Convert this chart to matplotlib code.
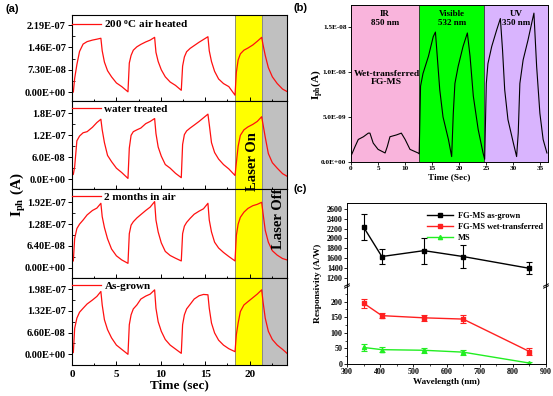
import numpy as np
import matplotlib
matplotlib.use("Agg")
import matplotlib.pyplot as plt
from matplotlib.lines import Line2D

plt.rcParams['font.family'] = ['Liberation Serif', 'DejaVu Serif']
plt.rcParams['font.weight'] = 'bold'
plt.rcParams['mathtext.fontset'] = 'custom'
plt.rcParams['mathtext.rm'] = 'Liberation Serif:bold'
plt.rcParams['mathtext.bf'] = 'Liberation Serif:bold'
plt.rcParams['mathtext.it'] = 'Liberation Serif:bold:italic'

# ---- panel (a): photocurrent vs time, four samples (values in 1e-8 A) ----
t_a = [0.0, 0.15, 0.3, 0.55, 0.85, 1.25, 1.7, 2.3, 2.8, 3.25, 3.4, 3.65, 4.0, 4.45, 5.0, 5.6, 6.3,
       6.45, 6.65, 6.9, 7.3, 7.75, 8.3, 8.8, 9.3, 9.45, 9.7, 10.05, 10.5, 11.05, 11.65, 12.3,
       12.45, 12.65, 12.9, 13.3, 13.75, 14.3, 14.8, 15.3, 15.45, 15.7, 16.05, 16.5, 17.05, 17.65, 18.35,
       18.5, 18.7, 18.95, 19.35, 19.8, 20.35, 20.85, 21.35, 21.5, 21.75, 22.1, 22.55, 23.1, 23.7, 24.2]
air_heated = [0.6, 0.0, 4.5, 9.0, 13.3, 15.7, 16.5, 17.0, 17.3, 17.6, 13.5, 9.8, 7.0, 5.0, 3.0, 1.8, 0.1,
              9.5, 12.0, 13.7, 14.8, 15.6, 16.4, 17.0, 17.9, 13.0, 10.0, 7.3, 5.0, 3.3, 2.2, 0.6,
              8.5, 11.5, 13.2, 14.3, 15.2, 16.3, 17.2, 18.1, 13.5, 10.0, 6.8, 4.3, 2.8, 1.8, -1.0,
              6.5, 10.5, 12.5, 13.7, 14.4, 15.4, 16.6, 17.9, 15.5, 12.0, 8.0, 5.0, 2.8, 1.0, 0.2]
water_treated = [1.1, 1.3, 3.4, 10.5, 11.8, 12.7, 13.0, 14.2, 15.5, 16.4, 13.5, 10.0, 6.5, 4.8, 3.0, 1.8, 0.2,
                 8.5, 12.0, 13.0, 13.5, 14.0, 15.2, 15.8, 16.6, 12.5, 8.8, 6.3, 4.0, 3.0, 1.6, 0.4,
                 9.5, 12.2, 13.2, 14.0, 14.8, 15.8, 16.8, 17.8, 15.0, 10.0, 7.3, 5.5, 4.0, 2.8, 1.0,
                 4.5, 9.0, 12.0, 13.5, 14.3, 15.0, 15.8, 17.1, 15.0, 11.5, 7.0, 4.5, 3.0, 1.5, 0.8]
two_months = [1.8, 2.0, 8.6, 11.5, 12.8, 14.0, 15.5, 16.8, 17.5, 18.9, 15.0, 11.8, 8.5, 5.5, 3.5, 2.3, 1.3,
              10.0, 12.5, 13.5, 14.6, 15.6, 16.8, 17.8, 19.4, 14.0, 10.5, 7.3, 4.8, 3.6, 2.8, 2.0,
              10.0, 12.2, 13.3, 14.5, 15.7, 16.6, 17.3, 18.9, 14.0, 10.5, 7.5, 5.8, 4.5, 3.3, 2.0,
              9.5, 12.8, 14.8, 16.3, 17.4, 18.2, 18.6, 19.2, 16.0, 11.0, 7.5, 5.0, 3.7, 2.7, 2.3]
as_grown = [0.8, 0.5, 7.9, 11.0, 12.8, 14.0, 15.3, 16.5, 17.6, 19.1, 15.0, 10.5, 7.5, 5.0, 2.8, 1.5, 0.0,
            9.0, 12.0, 13.8, 15.0, 16.8, 17.7, 18.3, 19.6, 14.0, 9.9, 7.0, 4.5, 2.8, 1.6, 0.3,
            9.0, 12.0, 13.8, 15.2, 16.8, 17.8, 18.2, 18.1, 14.0, 9.5, 6.5, 4.3, 2.8, 1.7, 0.8,
            6.0, 9.5, 13.0, 15.0, 16.0, 17.2, 18.3, 19.6, 16.0, 11.0, 7.0, 4.5, 2.8, 1.5, 0.3]
labels_a = [r'200 $^{\mathbf{o}}$C air heated', 'water treated', '2 months in air', 'As-grown']
yticks_a = [[0, 7.3e-8, 1.46e-7, 2.19e-7], [0, 6e-8, 1.2e-7, 1.8e-7],
            [0, 6.4e-8, 1.28e-7, 1.92e-7], [0, 6.6e-8, 1.32e-7, 1.98e-7]]
yticklabels_a = [['0.00E+00', '7.30E-08', '1.46E-07', '2.19E-07'],
                 ['0.0E+00', '6.0E-08', '1.2E-07', '1.8E-07'],
                 ['0.00E+00', '6.40E-08', '1.28E-07', '1.92E-07'],
                 ['0.00E+00', '6.60E-08', '1.32E-07', '1.98E-07']]
ylims_a = [(-2.9e-8, 2.52e-7), (-2.7e-8, 2.14e-7), (-3.0e-8, 2.31e-7), (-3.25e-8, 2.32e-7)]
laser_on, laser_off, t_end = 18.35, 21.4, 24.2

# ---- panel (b): wet-transferred FG-MS under IR / visible / UV (values in 1e-9 A) ----
t_b = [0.1, 0.74, 1.35, 2.3, 3.2, 3.5, 4.1, 5.0, 6.3, 6.7, 7.2, 8.4, 9.3, 10.0, 10.9, 12.4, 12.6,
       12.85, 13.3, 14.3, 15.2, 15.6, 15.8, 16.4, 17.0, 18.0, 18.6, 18.9, 19.2, 19.8, 20.7, 21.5,
       22.0, 22.6, 23.5, 24.4, 24.7, 25.0, 25.3, 26.0, 26.9, 27.6, 28.0, 28.4, 29.0, 30.0, 30.6,
       30.9, 31.2, 31.8, 32.7, 33.5, 33.8, 34.3, 34.9, 35.5, 36.2]
i_b = [0.8, 1.7, 2.5, 2.8, 3.2, 3.2, 2.1, 1.4, 1.0, 1.7, 2.8, 3.0, 3.2, 2.5, 1.4, 1.0, 0.9,
       8.4, 9.8, 11.7, 13.9, 14.4, 12.8, 8.0, 5.0, 2.5, 0.6, 5.4, 8.7, 10.6, 12.8, 14.3,
       11.7, 7.3, 3.6, 1.0, 0.3, 8.7, 10.9, 12.8, 14.6, 15.9, 12.4, 8.0, 4.7, 2.1, 0.6,
       3.2, 8.7, 11.3, 13.5, 15.7, 16.5, 10.6, 5.4, 2.5, 1.0]
bands_b = [(0, 12.6, '#F9B4DC', 'IR\n850 nm'), (12.6, 24.65, '#00FF00', 'Visible\n532 nm'),
           (24.65, 36.4, '#D9B4FE', 'UV\n350 nm')]

# ---- panel (c): responsivity vs wavelength ----
wavelength = [350, 405, 532, 650, 850]
resp_asgrown = [2230, 1630, 1750, 1630, 1390]
err_asgrown = [270, 145, 265, 230, 120]
resp_wet = [195, 155, 148, 144, 40]
err_wet = [14, 8, 10, 12, 11]
resp_ms = [53, 46, 44, 38, 3]
err_ms = [12, 9, 8, 8, 3]
names_c = ['FG-MS as-grown', 'FG-MS wet-transferred', 'MS']

W, H = 553, 396
fig = plt.figure(figsize=(W / 100, H / 100), dpi=100)


def box(left, top, right, bottom):
    return [left / W, 1 - bottom / H, (right - left) / W, (bottom - top) / H]


# panel (a)
tops = [15, 101, 189, 278, 365]
traces = [air_heated, water_treated, two_months, as_grown]
for k in range(4):
    ax = fig.add_axes(box(72, tops[k], 287, tops[k + 1]))
    ax.axvspan(laser_on, laser_off, color='#FFFF00', lw=0)
    ax.axvspan(laser_off, t_end + 0.2, color='#C0C0C0', lw=0)
    ax.axvline(laser_on, color='#808080', lw=0.6)
    ax.axvline(laser_off, color='#808080', lw=0.6)
    ax.plot(t_a, np.array(traces[k]) * 1e-8, color='#FF1010', lw=0.9, label=labels_a[k])
    ax.set_xlim(0, t_end)
    ax.set_ylim(*ylims_a[k])
    ax.set_yticks(yticks_a[k])
    ax.set_yticklabels(yticklabels_a[k])
    ax.set_yticks([(yticks_a[k][i] + yticks_a[k][i + 1]) / 2 for i in range(3)], minor=True)
    ax.set_xticks([0, 5, 10, 15, 20])
    ax.set_xticks([2.5, 7.5, 12.5, 17.5, 22.5], minor=True)
    ax.tick_params(axis='y', direction='out', length=3, width=0.7, labelsize=7.5, pad=1.5)
    ax.tick_params(axis='y', which='minor', direction='in', length=2, width=0.6)
    ax.tick_params(axis='x', which='both', direction='in', length=3, width=0.7, labelsize=8)
    ax.tick_params(axis='x', which='minor', length=1.8)
    if k < 3:
        ax.tick_params(axis='x', labelbottom=False)
    else:
        ax.set_xlabel('Time (sec)', fontsize=9.5, fontweight='bold', labelpad=0)
    for s in ax.spines.values():
        s.set_linewidth(0.8)
    ax.legend(loc='upper left', bbox_to_anchor=(-0.012, 0.99), frameon=False, fontsize=8,
              handlelength=2.6, handletextpad=0.35, borderaxespad=0, borderpad=0.2)

fig.text(18 / W, 1 - 195 / H, r'$\mathbf{I_{ph}}$ (A)', rotation=90, ha='center', va='center',
         fontsize=11, fontweight='bold')
fig.text(252 / W, 1 - 162 / H, 'Laser On', rotation=90, ha='center', va='center', fontsize=10.5,
         fontweight='bold')
fig.text(278 / W, 1 - 219 / H, 'Laser Off', rotation=90, ha='center', va='center', fontsize=10.5,
         fontweight='bold')
fig.text(5 / W, 1 - 9 / H, '(a)', fontsize=8, family='Liberation Sans', ha='left', va='center')

# panel (b)
axb = fig.add_axes(box(351, 5, 548, 162))
for lo, hi, col, txt in bands_b:
    axb.axvspan(lo, hi, color=col, lw=0)
    axb.text((lo + hi) / 2, 1.68e-8, txt, ha='center', va='top', fontsize=6.5, fontweight='bold',
             linespacing=1.15)
for xb in [12.6, 24.65]:
    axb.axvline(xb, color='#303030', lw=0.6)
axb.plot(t_b, np.array(i_b) * 1e-9, color='black', lw=0.8)
axb.text(6.6, 9.3e-9, 'Wet-transferred\nFG-MS', ha='center', va='center', fontsize=6.8,
         fontweight='bold', linespacing=1.1)
axb.set_xlim(0, 36.4)
axb.set_ylim(0, 1.74e-8)
axb.set_xticks([0, 5, 10, 15, 20, 25, 30, 35])
axb.set_yticks([0, 5e-9, 1e-8, 1.5e-8])
axb.set_yticklabels(['0.0E+00', '5.0E-09', '1.0E-08', '1.5E-08'])
axb.tick_params(direction='out', length=2, width=0.6, labelsize=5.2, pad=1.2)
axb.set_xlabel('Time (Sec)', fontsize=6.7, fontweight='bold', labelpad=1)
for s in axb.spines.values():
    s.set_linewidth(0.7)
fig.text(317 / W, 1 - 85 / H, r'$\mathbf{I_{ph}(A)}$', rotation=90, ha='center', va='center',
         fontsize=8)
fig.text(293 / W, 1 - 8 / H, '(b)', fontsize=8, family='Liberation Sans', ha='left', va='center')

# panel (c) with broken y axis
axu = fig.add_axes(box(347, 203, 546, 286))
axl = fig.add_axes(box(347, 286, 546, 364))
style = dict(lw=1.0, elinewidth=0.8, capsize=2, capthick=0.8, markersize=3)
colors_c = ['black', '#FF2020', '#22EE22']
markers_c = ['s', 's', '^']
axu.errorbar(wavelength, resp_asgrown, yerr=err_asgrown, color=colors_c[0], marker='s', **style)
axl.errorbar(wavelength, resp_wet, yerr=err_wet, color=colors_c[1], marker='s', **style)
axl.errorbar(wavelength, resp_ms, yerr=err_ms, color=colors_c[2], marker='^', **style)
handles = [Line2D([], [], color=c, marker=m, markersize=3, lw=1.0) for c, m in zip(colors_c, markers_c)]
axu.legend(handles, names_c, loc='upper right', bbox_to_anchor=(1.0, 0.93), frameon=False,
           fontsize=6, handlelength=3.2, handletextpad=0.5, labelspacing=0.35, borderaxespad=0)
axu.set_ylim(1030, 2720)
axl.set_ylim(0, 250)
for a in (axu, axl):
    a.set_xlim(300, 900)
    a.set_xticks([300, 400, 500, 600, 700, 800, 900])
    a.tick_params(direction='out', length=2, width=0.6, labelsize=5.8, pad=1)
    a.tick_params(which='minor', direction='out', length=1.2, width=0.5)
    for s in a.spines.values():
        s.set_linewidth(0.7)
axu.set_yticks([1200, 1400, 1600, 1800, 2000, 2200, 2400, 2600])
axl.set_yticks([0, 50, 100, 150, 200])
axl.set_yticks([25, 75, 125, 175, 225], minor=True)
axl.set_xticks([350, 450, 550, 650, 750, 850], minor=True)
axu.spines['bottom'].set_visible(False)
axl.spines['top'].set_visible(False)
axu.tick_params(axis='x', which='both', bottom=False, labelbottom=False)
axl.set_xlabel('Wavelength (nm)', fontsize=6.6, fontweight='bold', labelpad=1)
# break marks
for xa in (0, 1):
    for dy in (-0.012, 0.012):
        axl.plot([xa - 0.012, xa + 0.012], [1.0 + dy - 0.015, 1.0 + dy + 0.015],
                 transform=axl.transAxes, color='black', lw=0.7, clip_on=False)
fig.text(318 / W, 1 - 283 / H, 'Responsivity (A/W)', rotation=90, ha='center', va='center',
         fontsize=6.8, fontweight='bold')
fig.text(293 / W, 1 - 189 / H, '(c)', fontsize=8, family='Liberation Sans', ha='left', va='center')

fig.savefig('out.png', dpi=100)
